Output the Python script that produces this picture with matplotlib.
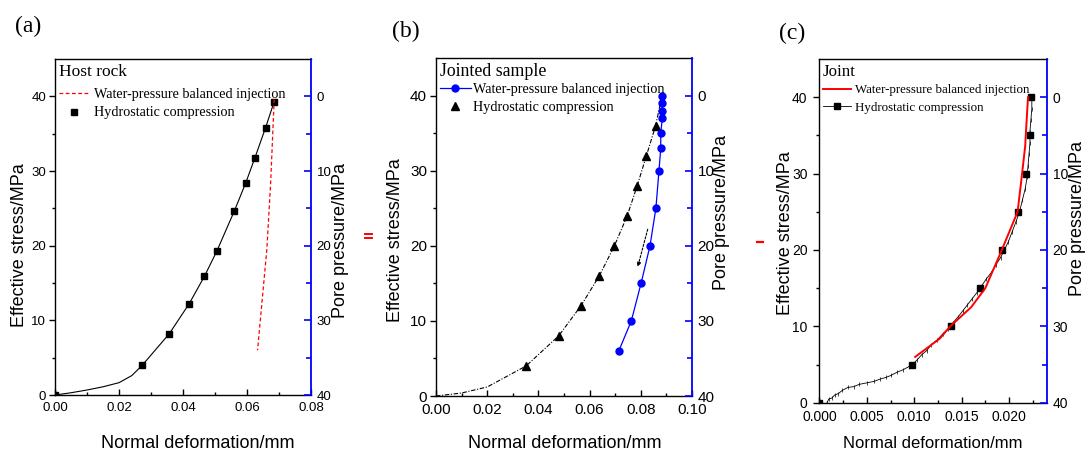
import matplotlib
matplotlib.use('Agg')
import matplotlib.pyplot as plt
from matplotlib.lines import Line2D
from matplotlib.ticker import MultipleLocator, FormatStrFormatter, FixedLocator

plt.rcParams['font.family'] = ['Liberation Sans', 'DejaVu Sans']
SERIF = ['Liberation Serif', 'DejaVu Serif']

# ---------------- data ----------------
# (a) Host rock
a_hc_x = [0.0, 0.0273, 0.0357, 0.0419, 0.0467, 0.0506, 0.0560, 0.0596, 0.0625, 0.0658, 0.0685]
a_hc_y = [0.0, 4.0, 8.2, 12.2, 15.9, 19.3, 24.6, 28.4, 31.8, 35.8, 39.3]
a_curve_x = [0.0, 0.005, 0.010, 0.015, 0.020, 0.024, 0.0273, 0.0357, 0.0419, 0.0467,
             0.0506, 0.0560, 0.0596, 0.0625, 0.0658, 0.0685]
a_curve_y = [0.0, 0.3, 0.67, 1.1, 1.65, 2.6, 4.0, 8.2, 12.2, 15.9,
             19.3, 24.6, 28.4, 31.8, 35.8, 39.3]
a_wp_x = [0.0685, 0.0674, 0.0662, 0.0633]
a_wp_p = [0.4, 11.5, 20.5, 34.0]

# (b) Jointed sample
b_hc_x = [0.0352, 0.0479, 0.0566, 0.0638, 0.0697, 0.0747, 0.0786, 0.0822, 0.0858]
b_hc_y = [4, 8, 12, 16, 20, 24, 28, 32, 36]
b_curve_x = [0.0, 0.010, 0.020, 0.0352, 0.0479, 0.0566, 0.0638, 0.0697, 0.0747,
             0.0786, 0.0822, 0.0858, 0.0880]
b_curve_y = [0.0, 0.4, 1.2, 4, 8, 12, 16, 20, 24, 28, 32, 36, 39.5]
b_wp_x = [0.0883, 0.0884, 0.0883, 0.0884, 0.0878, 0.0878, 0.0871, 0.0859,
          0.0836, 0.0801, 0.0763, 0.0714]
b_wp_p = [0, 1, 2, 3, 5, 7, 10, 15, 20, 25, 30, 34]
b_arrow_x = [0.0827, 0.0788]
b_arrow_y = [22.2, 17.2]

# (c) Joint
c_hc_x = [0.0, 0.0098, 0.01385, 0.01694, 0.0193, 0.02092, 0.02176, 0.0222, 0.02232]
c_hc_y = [0, 5, 10, 15, 20, 25, 30, 35, 40]
c_raw_x = [0.0008, 0.0010, 0.0013, 0.0016, 0.0020, 0.0024, 0.0030, 0.0036, 0.0042,
           0.0050, 0.0058, 0.0064, 0.0070, 0.0076, 0.0082, 0.0088, 0.0094, 0.0098,
           0.0103, 0.0108, 0.0113, 0.0118, 0.0124, 0.0130, 0.0136, 0.0141, 0.0146,
           0.0151, 0.0156, 0.0161, 0.0166, 0.0171, 0.0176, 0.0181, 0.0186, 0.0191,
           0.0195, 0.0199, 0.0203, 0.0207, 0.0211, 0.0214, 0.0217, 0.0219, 0.0220,
           0.0221, 0.0222, 0.0222, 0.0223, 0.0224, 0.0224]
c_raw_y = [0.0, 0.5, 0.6, 1.0, 1.2, 1.6, 2.0, 2.1, 2.4,
           2.6, 2.8, 3.1, 3.3, 3.6, 4.0, 4.3, 4.7, 5.0,
           5.6, 6.3, 6.8, 7.6, 8.2, 9.0, 9.7, 10.5, 11.2,
           12.0, 12.8, 13.6, 14.4, 15.3, 16.2, 17.0, 18.0, 19.0,
           20.0, 21.0, 22.3, 23.6, 25.0, 26.5, 28.0, 29.5, 31.0,
           32.5, 34.0, 35.5, 37.0, 38.5, 40.0]
c_wp_x = [0.0101, 0.0127, 0.0138, 0.0160, 0.0175, 0.0192, 0.0209, 0.0213, 0.0217, 0.0219, 0.0220]
c_wp_p = [34.0, 31.6, 30.0, 27.5, 25.0, 20.1, 15.0, 10.8, 6.4, 2.0, 0.0]

legend_labels = ['Water-pressure balanced injection', 'Hydrostatic compression']
panel_titles = ['Host rock', 'Jointed sample', 'Joint']
panel_tags = ['(a)', '(b)', '(c)']
xlabel = 'Normal deformation/mm'
ylabel_l = 'Effective stress/MPa'
ylabel_r = 'Pore pressure/MPa'

# ---------------- layout ----------------
W, H = 1089, 455
fig = plt.figure(figsize=(W / 100, H / 100), dpi=100)


def rect(l, t, r, b):
    return [l / W, 1 - b / H, (r - l) / W, (b - t) / H]


def ftext(x, y, s, **kw):
    fig.text(x / W, 1 - y / H, s, **kw)


def setup(ax, xmax, xmaj, xmin, xfmt, fs):
    ax.set_xlim(0, xmax)
    ax.set_ylim(0, 45)
    ax.xaxis.set_major_locator(MultipleLocator(xmaj))
    ax.xaxis.set_minor_locator(MultipleLocator(xmin))
    ax.xaxis.set_major_formatter(FormatStrFormatter(xfmt))
    ax.yaxis.set_major_locator(FixedLocator([0, 10, 20, 30, 40]))
    ax.yaxis.set_minor_locator(FixedLocator([5, 15, 25, 35]))
    ax.tick_params(axis='y', which='both', direction='out', left=True, right=False,
                   labelsize=fs, pad=2.5, width=1)
    ax.tick_params(axis='y', which='major', length=4)
    ax.tick_params(axis='y', which='minor', length=2.5)
    ax.tick_params(axis='x', which='both', direction='in', top=False,
                   labelsize=fs, pad=5, width=1)
    ax.tick_params(axis='x', which='major', length=4)
    ax.tick_params(axis='x', which='minor', length=2.5)
    for s in ['left', 'bottom', 'top']:
        ax.spines[s].set_linewidth(1.0)
    ax.spines['right'].set_visible(False)
    ax2 = ax.twinx()
    ax2.set_ylim(40, -5)
    ax2.yaxis.set_major_locator(FixedLocator([0, 10, 20, 30, 40]))
    ax2.yaxis.set_minor_locator(FixedLocator([5, 15, 25, 35]))
    ax2.tick_params(axis='y', which='both', direction='in', color='blue',
                    labelcolor='black', labelsize=fs, pad=4, width=1.2)
    ax2.tick_params(axis='y', which='major', length=5)
    ax2.tick_params(axis='y', which='minor', length=3.5)
    ax2.spines['right'].set_color('blue')
    ax2.spines['right'].set_linewidth(1.3)
    for s in ['left', 'bottom', 'top']:
        ax2.spines[s].set_visible(False)
    return ax2


def legend(ax, handles, title, fs_t, fs_l, anchor, hl, htp, ls, sep):
    lg = ax.legend(handles, legend_labels, loc='upper left', bbox_to_anchor=anchor,
                   frameon=False, title=title, alignment='left',
                   prop={'family': SERIF, 'size': fs_l},
                   title_fontproperties={'family': SERIF, 'size': fs_t},
                   handlelength=hl, handletextpad=htp, labelspacing=ls,
                   borderpad=0, borderaxespad=0)
    lg._legend_box.sep = sep
    lg.set_zorder(10)
    return lg


# ---------------- (a) ----------------
axa = fig.add_axes(rect(55, 59, 311, 395))
axa2 = setup(axa, 0.08, 0.02, 0.01, '%.2f', 9.5)
axa.plot(a_curve_x, a_curve_y, color='black', lw=0.8)
axa.plot(a_hc_x, a_hc_y, ls='none', marker='s', ms=4.2, color='black')
axa2.plot(a_wp_x, a_wp_p, color='red', ls=(0, (3, 2)), lw=0.9)
ha = [Line2D([], [], color='red', ls=(0, (3, 2)), lw=0.9),
      Line2D([], [], color='black', ls='none', marker='s', ms=4.2)]
legend(axa2, ha, panel_titles[0], 12.5, 10.2, (0.015, 0.985), 2.1, 0.4, 0.36, 6)

# ---------------- (b) ----------------
axb = fig.add_axes(rect(436, 58, 692, 396))
axb2 = setup(axb, 0.1, 0.02, 0.01, '%.2f', 11)
axb.plot(b_curve_x, b_curve_y, color='black', lw=0.8, ls=(0, (4, 1.5, 1, 1.5)))
axb.plot(b_hc_x, b_hc_y, ls='none', marker='^', ms=5.5, color='black')
axb.annotate('', xy=(b_arrow_x[1], b_arrow_y[1]), xytext=(b_arrow_x[0], b_arrow_y[0]),
             arrowprops=dict(arrowstyle='-|>', color='black', lw=0.8, ls=(0, (2, 1.5)),
                             mutation_scale=6, shrinkA=0, shrinkB=0))
axb2.plot(b_wp_x, b_wp_p, color='blue', lw=0.9, marker='o', ms=5)
hb = [Line2D([], [], color='blue', lw=0.9, marker='o', ms=5),
      Line2D([], [], color='black', ls='none', marker='^', ms=5.5)]
legend(axb2, hb, panel_titles[1], 12.8, 10.2, (0.014, 0.985), 2.2, 0.15, 0.33, 2)

# ---------------- (c) ----------------
axc = fig.add_axes(rect(819.4, 59, 1047, 402.7))
axc2 = setup(axc, 0.024, 0.005, 0.0025, '%.3f', 10)
axc.tick_params(axis='x', pad=5)
axc.tick_params(axis='y', pad=4.5)
axc.plot(c_raw_x, c_raw_y, color='black', lw=0.6, marker='|', ms=3, mew=0.5)
axc.plot(c_hc_x, c_hc_y, ls='none', marker='s', ms=4.5, color='black')
axc2.plot(c_wp_x, c_wp_p, color='red', lw=1.4)
hc = [Line2D([], [], color='red', lw=1.4),
      Line2D([], [], color='black', lw=0.6, marker='s', ms=4.5)]
legend(axc2, hc, panel_titles[2], 12.2, 9.3, (0.015, 0.985), 2.2, 0.3, 0.43, 3)

# ---------------- labels ----------------
lab = dict(ha='center', va='center', fontsize=13)
ftext(198, 443, xlabel, **lab)
ftext(565, 443, xlabel, **lab)
ftext(933, 443, xlabel, ha='center', va='center', fontsize=12)
ftext(20, 245, ylabel_l, rotation=90, **lab)
ftext(395, 240, ylabel_l, rotation=90, **lab)
ftext(785, 233, ylabel_l, rotation=90, **lab)
ftext(340, 240, ylabel_r, rotation=90, **lab)
ftext(722, 212, ylabel_r, rotation=90, **lab)
ftext(1078, 219, ylabel_r, rotation=90, **lab)

tag = dict(ha='center', va='center', fontsize=17, family=SERIF)
ftext(28, 26, panel_tags[0], **tag)
ftext(406, 31, panel_tags[1], **tag)
ftext(792, 33, panel_tags[2], **tag)

# small red marks between panels
for yy in (234, 238):
    fig.add_artist(Line2D([365 / W, 372 / W], [1 - yy / H, 1 - yy / H], color='red', lw=1.4))
fig.add_artist(Line2D([757 / W, 763 / W], [1 - 242 / H, 1 - 242 / H], color='red', lw=1.6))

fig.savefig('out.png', dpi=100)
